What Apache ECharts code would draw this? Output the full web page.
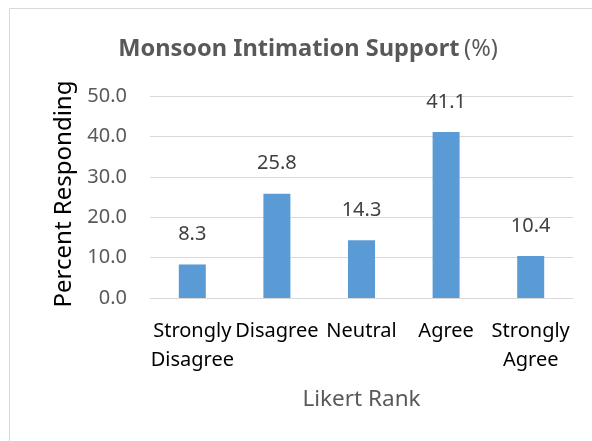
<!DOCTYPE html>
<html>
<head>
<meta charset="utf-8">
<script src="https://cdn.jsdelivr.net/npm/echarts@6/dist/echarts.min.js"></script>
<style>
  html, body { margin: 0; padding: 0; background: #fff; }
  #chart { width: 592px; height: 441px; }
</style>
</head>
<body>
<div id="chart"></div>
<script>
// 数据
const categories = ['Strongly\nDisagree', 'Disagree', 'Neutral', 'Agree', 'Strongly\nAgree'];
const values = [8.3, 25.8, 14.3, 41.1, 10.4];
const yTicks = { min: 0, max: 50, interval: 10 };

const font = '"Noto Sans", sans-serif';
const chart = echarts.init(document.getElementById('chart'));

chart.setOption({
  animation: false,
  textStyle: { fontFamily: font },
  graphic: [
    {
      type: 'rect',
      shape: { x: 9.5, y: 8.5, width: 620, height: 460 },
      style: { fill: 'none', stroke: '#d9d9d9', lineWidth: 1 },
      silent: true,
    },
  ],
  title: {
    text: '{b|Monsoon Intimation Support} {n|(%)}',
    left: 303,
    textAlign: 'center',
    top: 32,
    textStyle: {
      rich: {
        b: { fontFamily: font, fontSize: 23.6, fontWeight: 'bold', color: '#595959' },
        n: { fontFamily: font, fontSize: 23.6, fontWeight: 'normal', color: '#595959' },
      },
    },
  },
  grid: {
    left: 150,
    right: 19,
    top: 96,
    bottom: 143,
  },
  xAxis: {
    type: 'category',
    data: categories,
    name: 'Likert Rank',
    nameLocation: 'middle',
    nameGap: 90,
    nameTextStyle: { fontFamily: font, fontSize: 22.5, color: '#595959' },
    axisLine: { lineStyle: { color: '#d9d9d9', width: 1 } },
    axisTick: { show: false },
    axisLabel: {
      interval: 0,
      margin: 19,
      fontFamily: font,
      fontSize: 20,
      lineHeight: 29,
      color: '#000',
    },
  },
  yAxis: {
    type: 'value',
    min: yTicks.min,
    max: yTicks.max,
    interval: yTicks.interval,
    name: 'Percent Responding',
    nameLocation: 'middle',
    nameGap: 74,
    nameTextStyle: { fontFamily: font, fontSize: 24, color: '#000', padding: [0, 0, 0, 6] },
    axisLine: { show: false },
    axisTick: { show: false },
    axisLabel: {
      margin: 23,
      fontFamily: font,
      fontSize: 20,
      color: '#595959',
      formatter: (v) => v.toFixed(1),
    },
    splitLine: { lineStyle: { color: '#d9d9d9', width: 1 } },
  },
  series: [
    {
      type: 'bar',
      data: values,
      barWidth: 27,
      itemStyle: { color: '#5b9bd5' },
      label: {
        show: true,
        position: 'top',
        distance: 20,
        fontFamily: font,
        fontSize: 20,
        color: '#404040',
        formatter: (p) => p.value.toFixed(1),
      },
    },
  ],
});
</script>
</body>
</html>
